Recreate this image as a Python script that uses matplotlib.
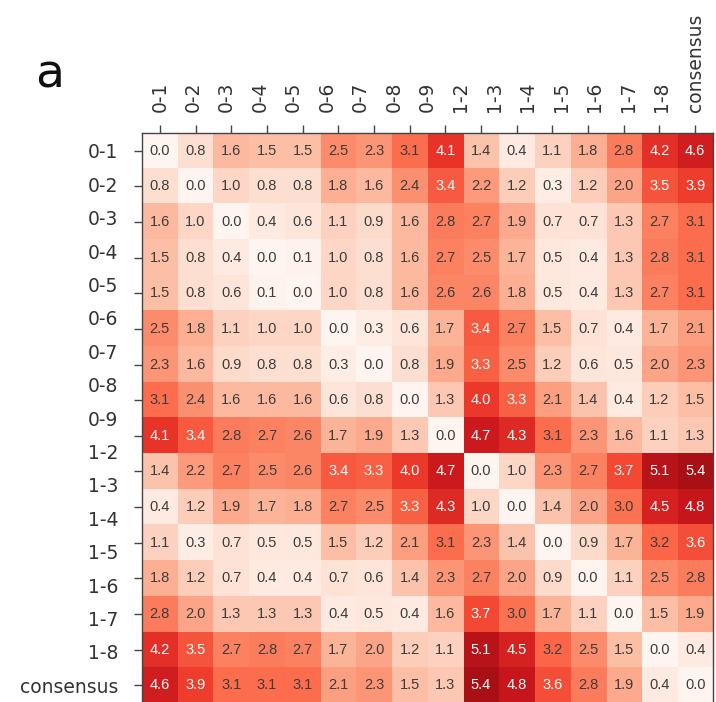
import numpy as np
import matplotlib
matplotlib.use("Agg")
import matplotlib.pyplot as plt
from matplotlib import font_manager

# labels (17 names printed along each axis)
labels = ["0-1", "0-2", "0-3", "0-4", "0-5", "0-6", "0-7", "0-8", "0-9",
          "1-2", "1-3", "1-4", "1-5", "1-6", "1-7", "1-8", "consensus"]

# 16 x 16 distance matrix as printed in the cells
dist = np.array([
    [0.0, 0.8, 1.6, 1.5, 1.5, 2.5, 2.3, 3.1, 4.1, 1.4, 0.4, 1.1, 1.8, 2.8, 4.2, 4.6],
    [0.8, 0.0, 1.0, 0.8, 0.8, 1.8, 1.6, 2.4, 3.4, 2.2, 1.2, 0.3, 1.2, 2.0, 3.5, 3.9],
    [1.6, 1.0, 0.0, 0.4, 0.6, 1.1, 0.9, 1.6, 2.8, 2.7, 1.9, 0.7, 0.7, 1.3, 2.7, 3.1],
    [1.5, 0.8, 0.4, 0.0, 0.1, 1.0, 0.8, 1.6, 2.7, 2.5, 1.7, 0.5, 0.4, 1.3, 2.8, 3.1],
    [1.5, 0.8, 0.6, 0.1, 0.0, 1.0, 0.8, 1.6, 2.6, 2.6, 1.8, 0.5, 0.4, 1.3, 2.7, 3.1],
    [2.5, 1.8, 1.1, 1.0, 1.0, 0.0, 0.3, 0.6, 1.7, 3.4, 2.7, 1.5, 0.7, 0.4, 1.7, 2.1],
    [2.3, 1.6, 0.9, 0.8, 0.8, 0.3, 0.0, 0.8, 1.9, 3.3, 2.5, 1.2, 0.6, 0.5, 2.0, 2.3],
    [3.1, 2.4, 1.6, 1.6, 1.6, 0.6, 0.8, 0.0, 1.3, 4.0, 3.3, 2.1, 1.4, 0.4, 1.2, 1.5],
    [4.1, 3.4, 2.8, 2.7, 2.6, 1.7, 1.9, 1.3, 0.0, 4.7, 4.3, 3.1, 2.3, 1.6, 1.1, 1.3],
    [1.4, 2.2, 2.7, 2.5, 2.6, 3.4, 3.3, 4.0, 4.7, 0.0, 1.0, 2.3, 2.7, 3.7, 5.1, 5.4],
    [0.4, 1.2, 1.9, 1.7, 1.8, 2.7, 2.5, 3.3, 4.3, 1.0, 0.0, 1.4, 2.0, 3.0, 4.5, 4.8],
    [1.1, 0.3, 0.7, 0.5, 0.5, 1.5, 1.2, 2.1, 3.1, 2.3, 1.4, 0.0, 0.9, 1.7, 3.2, 3.6],
    [1.8, 1.2, 0.7, 0.4, 0.4, 0.7, 0.6, 1.4, 2.3, 2.7, 2.0, 0.9, 0.0, 1.1, 2.5, 2.8],
    [2.8, 2.0, 1.3, 1.3, 1.3, 0.4, 0.5, 0.4, 1.6, 3.7, 3.0, 1.7, 1.1, 0.0, 1.5, 1.9],
    [4.2, 3.5, 2.7, 2.8, 2.7, 1.7, 2.0, 1.2, 1.1, 5.1, 4.5, 3.2, 2.5, 1.5, 0.0, 0.4],
    [4.6, 3.9, 3.1, 3.1, 3.1, 2.1, 2.3, 1.5, 1.3, 5.4, 4.8, 3.6, 2.8, 1.9, 0.4, 0.0],
])

n = dist.shape[0]
installed = {f.name for f in font_manager.fontManager.ttflist}
num_font = "Liberation Sans Narrow" if "Liberation Sans Narrow" in installed else "Liberation Sans"

fig = plt.figure(figsize=(7.16, 7.02), dpi=100)
ax = fig.add_axes([0.1983, -0.0015, 0.7975, 0.812])

ax.imshow(dist, cmap="Reds", vmin=0, vmax=6.3, interpolation="nearest", aspect="auto")

for i in range(n):
    for j in range(n):
        v = dist[i, j]
        ax.text(j, i, f"{v:.1f}", ha="center", va="center", fontsize=10.5,
                family=num_font, color="white" if v >= 3.25 else "#3c3c3c")

# tick marks sit on the cell centres
ax.set_xticks(range(n))
ax.set_yticks(range(n))
ax.set_xticklabels([])
ax.set_yticklabels([])
ax.tick_params(which="major", length=6, width=1, color="#444444",
               top=True, bottom=False, labeltop=False, labelbottom=False)

# the 17 names are spread evenly over the same span
ax.xaxis.remove_overlapping_locs = False
ax.yaxis.remove_overlapping_locs = False
pos = np.linspace(0, n - 1, len(labels))
ax.set_xticks(pos, labels, minor=True)
ax.set_yticks(pos, labels, minor=True)
ax.tick_params(which="minor", length=0, top=True, bottom=False,
               labeltop=True, labelbottom=False, labelsize=13.5, labelcolor="#333333")
ax.tick_params(axis="x", which="minor", pad=15, labelrotation=90)
ax.tick_params(axis="y", which="minor", pad=17)

for s in ax.spines.values():
    s.set_color("#444444")
    s.set_linewidth(1)

fig.text(0.07, 0.875, "a", fontsize=34, ha="center", va="baseline", color="#111111")

fig.savefig("out.png", dpi=100)
